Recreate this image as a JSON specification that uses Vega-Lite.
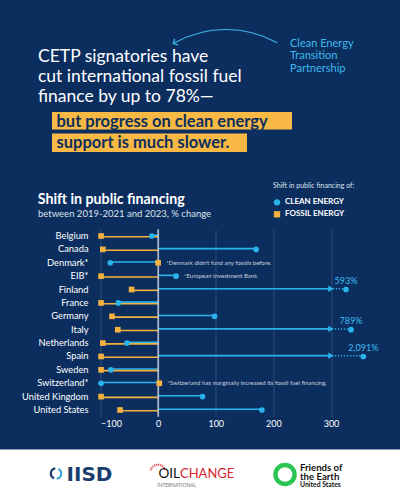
{
  "$schema": "https://vega.github.io/schema/vega-lite/v6.json",
  "width": 270,
  "height": 187.4,
  "autosize": {"type": "none"},
  "padding": {"left": 100.5, "top": 229.3, "right": 29.5, "bottom": 83.3},
  "background": "#0c2e5f",
  "config": {
    "view": {"stroke": null},
    "font": "Lato",
    "text": {"font": "Lato"}
  },
  "resolve": {"scale": {"x": "independent", "y": "independent"}},
  "layer": [
    {
      "data": {
        "values": [
          {"country": "Belgium", "type": "CLEAN ENERGY", "value": -11},
          {"country": "Belgium", "type": "FOSSIL ENERGY", "value": -99},
          {"country": "Canada", "type": "CLEAN ENERGY", "value": 170},
          {"country": "Canada", "type": "FOSSIL ENERGY", "value": -96},
          {"country": "Denmark*", "type": "CLEAN ENERGY", "value": -83},
          {"country": "Denmark*", "type": "FOSSIL ENERGY", "value": 0, "note": "*Denmark didn't fund any fossils before."},
          {"country": "EIB*", "type": "CLEAN ENERGY", "value": 31, "note": "*European Investment Bank"},
          {"country": "EIB*", "type": "FOSSIL ENERGY", "value": -99},
          {"country": "Finland", "type": "CLEAN ENERGY", "value": 593},
          {"country": "Finland", "type": "FOSSIL ENERGY", "value": -46},
          {"country": "France", "type": "CLEAN ENERGY", "value": -69},
          {"country": "France", "type": "FOSSIL ENERGY", "value": -99},
          {"country": "Germany", "type": "CLEAN ENERGY", "value": 98},
          {"country": "Germany", "type": "FOSSIL ENERGY", "value": -80},
          {"country": "Italy", "type": "CLEAN ENERGY", "value": 789},
          {"country": "Italy", "type": "FOSSIL ENERGY", "value": -70},
          {"country": "Netherlands", "type": "CLEAN ENERGY", "value": -54},
          {"country": "Netherlands", "type": "FOSSIL ENERGY", "value": -96},
          {"country": "Spain", "type": "CLEAN ENERGY", "value": 2091},
          {"country": "Spain", "type": "FOSSIL ENERGY", "value": -99},
          {"country": "Sweden", "type": "CLEAN ENERGY", "value": -82},
          {"country": "Sweden", "type": "FOSSIL ENERGY", "value": -99},
          {"country": "Switzerland*", "type": "CLEAN ENERGY", "value": -99},
          {"country": "Switzerland*", "type": "FOSSIL ENERGY", "value": 2, "note": "*Switzerland has marginally increased its fossil fuel financing."},
          {"country": "United Kingdom", "type": "CLEAN ENERGY", "value": 77},
          {"country": "United Kingdom", "type": "FOSSIL ENERGY", "value": -99},
          {"country": "United States", "type": "CLEAN ENERGY", "value": 180},
          {"country": "United States", "type": "FOSSIL ENERGY", "value": -66}
        ]
      },
      "layer": [
        {
          "transform": [{"filter": "datum.type === 'CLEAN ENERGY'"}],
          "mark": {"type": "rule", "color": "#29b5ec", "strokeWidth": 1.6, "yOffset": -0.8},
          "encoding": {
            "x": {
              "field": "value",
              "type": "quantitative",
              "scale": {"domain": [-100, 300, 593, 789, 2091], "range": [0, 230.5, 245.5, 250.5, 262.8], "nice": false, "zero": false},
              "axis": {
                "title": null,
                "values": [-100, -50, 0, 50, 100, 150, 200, 250, 300],
                "labelExpr": "datum.value % 100 === 0 ? datum.label : ''",
                "grid": true,
                "gridColor": "#2c4d7d",
                "gridWidth": 1,
                "domain": false,
                "ticks": false,
                "labelColor": "#ffffff",
                "labelFont": "Lato",
                "labelFontSize": 9,
                "labelPadding": 3
              }
            },
            "x2": {"datum": 0},
            "y": {
              "field": "country",
              "type": "nominal",
              "sort": null,
              "scale": {"paddingInner": 0, "paddingOuter": 0},
              "axis": {
                "title": null,
                "domain": false,
                "ticks": false,
                "grid": false,
                "labelColor": "#ffffff",
                "labelFont": "Lato",
                "labelFontSize": 9.3,
                "labelPadding": 12.5
              }
            }
          }
        },
        {
          "transform": [{"filter": "datum.type === 'FOSSIL ENERGY'"}],
          "mark": {"type": "rule", "color": "#f4b13e", "strokeWidth": 1.6, "yOffset": 0.8},
          "encoding": {
            "x": {"field": "value", "type": "quantitative"},
            "x2": {"datum": 0},
            "y": {"field": "country", "type": "nominal", "sort": null}
          }
        },
        {
          "transform": [{"filter": "datum.type === 'CLEAN ENERGY' && datum.value > 300"}],
          "mark": {"type": "rule", "color": "#0c2e5f", "strokeWidth": 3.5, "yOffset": -0.8},
          "encoding": {
            "x": {"field": "value", "type": "quantitative"},
            "x2": {"datum": 300},
            "y": {"field": "country", "type": "nominal", "sort": null}
          }
        },
        {
          "transform": [{"filter": "datum.type === 'CLEAN ENERGY' && datum.value > 300"}],
          "mark": {"type": "rule", "color": "#29b5ec", "strokeWidth": 1.5, "strokeDash": [1.2, 1.8], "yOffset": -0.8},
          "encoding": {
            "x": {"field": "value", "type": "quantitative"},
            "x2": {"datum": 300},
            "y": {"field": "country", "type": "nominal", "sort": null}
          }
        },
        {
          "transform": [{"filter": "datum.type === 'CLEAN ENERGY' && datum.value > 300"}],
          "mark": {"type": "point", "shape": "triangle-right", "filled": true, "color": "#29b5ec", "size": 40, "opacity": 1, "yOffset": -0.8},
          "encoding": {
            "x": {"datum": 300, "type": "quantitative"},
            "y": {"field": "country", "type": "nominal", "sort": null}
          }
        },
        {
          "data": {"values": [{"base": 0}]},
          "mark": {"type": "rule", "color": "#e3e7ee", "strokeWidth": 1.2},
          "encoding": {
            "x": {"field": "base", "type": "quantitative"}
          }
        },
        {
          "mark": {"type": "point", "filled": true, "size": 32, "opacity": 1, "strokeWidth": 0},
          "encoding": {
            "x": {"field": "value", "type": "quantitative"},
            "y": {"field": "country", "type": "nominal", "sort": null},
            "color": {
              "field": "type",
              "type": "nominal",
              "scale": {"domain": ["CLEAN ENERGY", "FOSSIL ENERGY"], "range": ["#29b5ec", "#f4b13e"]},
              "legend": {
                "title": "Shift in public financing of:",
                "orient": "none",
                "legendX": 172.5,
                "legendY": -47,
                "titleFont": "Lato",
                "titleFontSize": 7,
                "titleFontWeight": "normal",
                "titleColor": "#dde3ec",
                "titlePadding": 9,
                "labelFont": "Lato",
                "labelFontSize": 8,
                "labelFontWeight": "bold",
                "labelColor": "#ffffff",
                "symbolSize": 40,
                "rowPadding": 4,
                "labelOffset": 4
              }
            },
            "shape": {
              "field": "type",
              "type": "nominal",
              "scale": {"domain": ["CLEAN ENERGY", "FOSSIL ENERGY"], "range": ["circle", "square"]},
              "legend": {
                "title": "Shift in public financing of:",
                "orient": "none",
                "legendX": 172.5,
                "legendY": -47
              }
            }
          }
        },
        {
          "transform": [
            {"filter": "datum.type === 'CLEAN ENERGY' && datum.value > 300"},
            {"calculate": "format(datum.value, ',') + '%'", "as": "label"}
          ],
          "mark": {"type": "text", "color": "#3dbcf0", "fontSize": 9, "dy": -8.5, "font": "Lato"},
          "encoding": {
            "x": {"field": "value", "type": "quantitative"},
            "y": {"field": "country", "type": "nominal", "sort": null},
            "text": {"field": "label", "type": "nominal"}
          }
        },
        {
          "transform": [{"filter": "isValid(datum.note)"}],
          "mark": {"type": "text", "color": "#c8d0dc", "fontSize": 6, "align": "left", "dx": 8, "font": "Lato"},
          "encoding": {
            "x": {"field": "value", "type": "quantitative"},
            "y": {"field": "country", "type": "nominal", "sort": null},
            "text": {"field": "note", "type": "nominal"}
          }
        }
      ]
    },
    {
      "data": {"values": [{"n": 1}]},
      "layer": [
        {
          "mark": {"type": "point", "shape": "M -1 -0.12625 L 1 -0.12625 L 1 0.12625 L -1 0.12625 Z", "filled": true, "size": 160000, "strokeWidth": 0, "color": "#ffffff", "opacity": 1},
          "encoding": {
            "x": {"datum": 200, "type": "quantitative", "scale": {"domain": [0, 400], "range": [-100.5, 299.5], "nice": false, "zero": false}, "axis": null},
            "y": {"datum": 474.75, "type": "quantitative", "scale": {"domain": [0, 500], "range": [-229.3, 270.7], "nice": false, "zero": false}, "axis": null}
          }
        },
        {
          "mark": {"type": "text", "text": ["CETP signatories have", "cut international fossil fuel", "finance by up to 78%\u2014"], "align": "left", "baseline": "alphabetic", "lineHeight": 20.3, "fontSize": 17.5, "letterSpacing": 1.1, "color": "#ffffff", "font": "Lato"},
          "encoding": {"x": {"datum": 38, "type": "quantitative", "axis": null}, "y": {"datum": 61.5, "type": "quantitative", "axis": null}}
        },
        {
          "mark": {"type": "point", "shape": "M -1 -0.0729 L 1 -0.0729 L 1 0.0729 L -1 0.0729 Z", "filled": true, "size": 57600, "strokeWidth": 0, "color": "#f7b943", "opacity": 1},
          "encoding": {"x": {"datum": 172, "type": "quantitative", "axis": null}, "y": {"datum": 120.75, "type": "quantitative", "axis": null}}
        },
        {
          "mark": {"type": "point", "shape": "M -1 -0.0949 L 1 -0.0949 L 1 0.0949 L -1 0.0949 Z", "filled": true, "size": 38025, "strokeWidth": 0, "color": "#f7b943", "opacity": 1},
          "encoding": {"x": {"datum": 149.5, "type": "quantitative", "axis": null}, "y": {"datum": 142.75, "type": "quantitative", "axis": null}}
        },
        {
          "mark": {"type": "text", "text": "but progress on clean energy", "align": "left", "baseline": "alphabetic", "fontSize": 16.5, "letterSpacing": 1.2, "fontWeight": "bold", "color": "#0c2e5f", "font": "Lato"},
          "encoding": {"x": {"datum": 56.5, "type": "quantitative", "axis": null}, "y": {"datum": 126.5, "type": "quantitative", "axis": null}}
        },
        {
          "mark": {"type": "text", "text": "support is much slower.", "align": "left", "baseline": "alphabetic", "fontSize": 16.5, "letterSpacing": 0.4, "fontWeight": "bold", "color": "#0c2e5f", "font": "Lato"},
          "encoding": {"x": {"datum": 56.5, "type": "quantitative", "axis": null}, "y": {"datum": 148, "type": "quantitative", "axis": null}}
        },
        {
          "mark": {"type": "text", "text": ["Clean Energy", "Transition", "Partnership"], "align": "left", "baseline": "alphabetic", "lineHeight": 12.3, "fontSize": 11, "letterSpacing": 0.3, "color": "#3db8ea", "font": "Lato"},
          "encoding": {"x": {"datum": 290, "type": "quantitative", "axis": null}, "y": {"datum": 47, "type": "quantitative", "axis": null}}
        },
        {
          "mark": {"type": "point", "shape": "circle", "filled": false, "size": 45029, "strokeWidth": 1.1, "strokeDash": [108.1, 558.5], "strokeDashOffset": 221.8, "color": "#3db8ea", "opacity": 1},
          "encoding": {"x": {"datum": 226, "type": "quantitative", "axis": null}, "y": {"datum": 135.6, "type": "quantitative", "axis": null}}
        },
        {
          "mark": {"type": "point", "shape": "M -1 -1 L 0 0 L -1 1", "filled": false, "size": 50, "strokeWidth": 1.2, "angle": 150, "color": "#3db8ea", "opacity": 1},
          "encoding": {"x": {"datum": 173.3, "type": "quantitative", "axis": null}, "y": {"datum": 43.6, "type": "quantitative", "axis": null}}
        },
        {
          "mark": {"type": "text", "text": "Shift in public financing", "align": "left", "baseline": "alphabetic", "fontSize": 14.2, "fontWeight": "bold", "color": "#ffffff", "font": "Lato"},
          "encoding": {"x": {"datum": 37.7, "type": "quantitative", "axis": null}, "y": {"datum": 203.5, "type": "quantitative", "axis": null}}
        },
        {
          "mark": {"type": "text", "text": "between 2019-2021 and 2023, % change", "align": "left", "baseline": "alphabetic", "fontSize": 9.5, "color": "#dde3ec", "font": "Lato"},
          "encoding": {"x": {"datum": 38, "type": "quantitative", "axis": null}, "y": {"datum": 216.5, "type": "quantitative", "axis": null}}
        },
        {
          "mark": {"type": "point", "shape": "circle", "filled": false, "size": 108, "strokeWidth": 2.2, "strokeDash": [13.16, 19.51], "strokeDashOffset": 22.69, "color": "#1b3d6e", "opacity": 1},
          "encoding": {"x": {"datum": 56, "type": "quantitative", "axis": null}, "y": {"datum": 473.5, "type": "quantitative", "axis": null}}
        },
        {
          "mark": {"type": "point", "shape": "circle", "filled": false, "size": 108, "strokeWidth": 2.2, "strokeDash": [13.6, 19.07], "strokeDashOffset": 6.35, "color": "#3aa9dc", "opacity": 1},
          "encoding": {"x": {"datum": 56, "type": "quantitative", "axis": null}, "y": {"datum": 473.5, "type": "quantitative", "axis": null}}
        },
        {
          "mark": {"type": "text", "text": "IISD", "align": "left", "baseline": "alphabetic", "fontSize": 20, "fontWeight": "bold", "letterSpacing": 1.3, "color": "#1b3d6e", "font": "DejaVu Sans"},
          "encoding": {"x": {"datum": 66.5, "type": "quantitative", "axis": null}, "y": {"datum": 481, "type": "quantitative", "axis": null}}
        },
        {
          "mark": {"type": "point", "shape": "circle", "filled": false, "size": 240, "strokeWidth": 2, "strokeDash": [1, 1.016, 1, 1.016, 1, 1.016, 1, 1.016, 1, 1.016, 1, 1.016, 1, 1.016, 1, 1.016, 1, 1.016, 1, 29.55], "strokeDashOffset": 22.25, "color": "#d9232e", "opacity": 1},
          "encoding": {"x": {"datum": 158, "type": "quantitative", "axis": null}, "y": {"datum": 472.5, "type": "quantitative", "axis": null}}
        },
        {
          "mark": {"type": "text", "text": "OIL", "align": "right", "baseline": "alphabetic", "fontSize": 13.5, "color": "#111111", "font": "Lato", "letterSpacing": 1},
          "encoding": {"x": {"datum": 180, "type": "quantitative", "axis": null}, "y": {"datum": 478.3, "type": "quantitative", "axis": null}}
        },
        {
          "mark": {"type": "text", "text": "CHANGE", "align": "left", "baseline": "alphabetic", "fontSize": 13, "color": "#d9232e", "font": "Lato", "letterSpacing": 0.7},
          "encoding": {"x": {"datum": 180, "type": "quantitative", "axis": null}, "y": {"datum": 478.3, "type": "quantitative", "axis": null}}
        },
        {
          "mark": {"type": "text", "text": "INTERNATIONAL", "align": "left", "baseline": "middle", "fontSize": 5, "color": "#777777", "font": "Lato", "letterSpacing": 3.6},
          "encoding": {"x": {"datum": 157, "type": "quantitative", "axis": null}, "y": {"datum": 484.5, "type": "quantitative", "axis": null}}
        },
        {
          "mark": {"type": "point", "shape": "circle", "filled": false, "size": 365, "strokeWidth": 4.5, "color": "#2bc452", "opacity": 1},
          "encoding": {"x": {"datum": 285, "type": "quantitative", "axis": null}, "y": {"datum": 474.5, "type": "quantitative", "axis": null}}
        },
        {
          "mark": {"type": "text", "text": ["Friends of", "the Earth"], "align": "left", "baseline": "alphabetic", "lineHeight": 9.3, "fontSize": 9.6, "fontWeight": "bold", "color": "#111111", "font": "Lato"},
          "encoding": {"x": {"datum": 300, "type": "quantitative", "axis": null}, "y": {"datum": 470.7, "type": "quantitative", "axis": null}}
        },
        {
          "mark": {"type": "text", "text": "United States", "align": "left", "baseline": "alphabetic", "fontSize": 6.8, "fontWeight": "bold", "color": "#111111", "font": "Lato"},
          "encoding": {"x": {"datum": 300, "type": "quantitative", "axis": null}, "y": {"datum": 487.3, "type": "quantitative", "axis": null}}
        }
      ]
    }
  ]
}
